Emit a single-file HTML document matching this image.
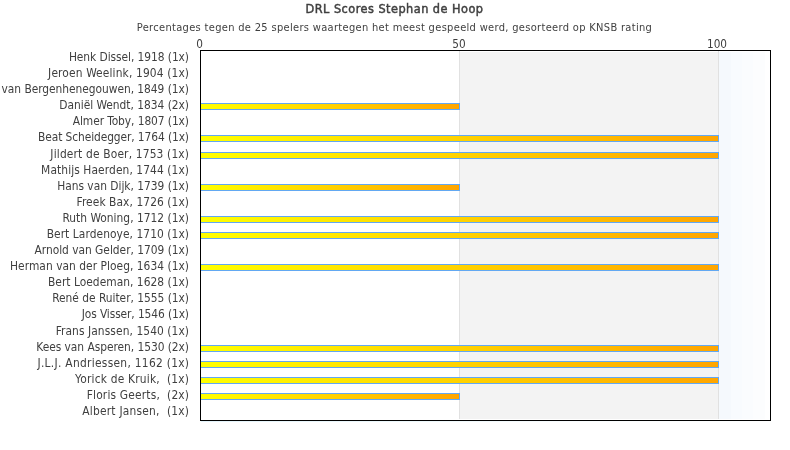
<!DOCTYPE html>
<html><head><meta charset="utf-8"><style>
html,body{margin:0;padding:0;background:#fff;}
body{width:790px;height:450px;position:relative;overflow:hidden;-webkit-font-smoothing:antialiased;font-family:"DejaVu Sans Condensed","DejaVu Sans","Liberation Sans",sans-serif;color:#3f3f3f;}
.t{position:absolute;white-space:nowrap;}
.title{left:-0.5px;width:790px;text-align:center;top:1px;font-size:12.6px;line-height:16px;letter-spacing:0.47px;-webkit-text-stroke:0.45px #3f3f3f;}
.sub{left:-0.5px;width:790px;text-align:center;top:21px;font-size:11.0px;line-height:14px;letter-spacing:0.322px;}
.lbl{right:601px;transform-origin:right center;font-size:11.85px;line-height:16px;text-align:right;}
.ax{top:36.5px;font-size:11.69px;line-height:14px;width:40px;text-align:center;}
#plot{position:absolute;left:200px;top:50px;width:569px;height:369px;border:1px solid #000;background:#fff;overflow:hidden;}
.band{position:absolute;top:1px;bottom:1px;}
.grid{position:absolute;top:0;bottom:1px;width:1px;background:#e1e1e1;}
.bar{position:absolute;left:0;height:5px;border:1px solid #62a8f2;border-left:none;background:linear-gradient(to right,#ffff00,#ffa500);}
</style></head><body>
<div id="txt" style="position:absolute;left:0;top:0;width:790px;height:450px;will-change:transform;z-index:2">
<div class="t title">DRL Scores Stephan de Hoop</div>
<div class="t sub">Percentages tegen de 25 spelers waartegen het meest gespeeld werd, gesorteerd op KNSB rating</div>
<div class="t ax" style="left:179.5px">0</div>
<div class="t ax" style="left:439px">50</div>
<div class="t ax" style="left:697px">100</div>
<div class="t lbl" style="top:49px;letter-spacing:-0.058px;right:601.058px">Henk Dissel, 1918 (1x)</div>
<div class="t lbl" style="top:65px;letter-spacing:0.142px;right:600.858px">Jeroen Weelink, 1904 (1x)</div>
<div class="t lbl" style="top:81px;letter-spacing:-0.034px;right:601.034px">van Bergenhenegouwen, 1849 (1x)</div>
<div class="t lbl" style="top:97px;letter-spacing:-0.018px;right:601.018px">Daniël Wendt, 1834 (2x)</div>
<div class="t lbl" style="top:113px;letter-spacing:-0.070px;right:601.070px">Almer Toby, 1807 (1x)</div>
<div class="t lbl" style="top:129px;letter-spacing:-0.092px;right:601.092px">Beat Scheidegger, 1764 (1x)</div>
<div class="t lbl" style="top:146px;letter-spacing:0.168px;right:600.832px">Jildert de Boer, 1753 (1x)</div>
<div class="t lbl" style="top:162px;letter-spacing:0.096px;right:600.904px">Mathijs Haerden, 1744 (1x)</div>
<div class="t lbl" style="top:178px;letter-spacing:-0.017px;right:601.017px">Hans van Dijk, 1739 (1x)</div>
<div class="t lbl" style="top:194px;letter-spacing:0.084px;right:600.916px">Freek Bax, 1726 (1x)</div>
<div class="t lbl" style="top:210px;letter-spacing:0.019px;right:600.981px">Ruth Woning, 1712 (1x)</div>
<div class="t lbl" style="top:226px;letter-spacing:0.075px;right:600.925px">Bert Lardenoye, 1710 (1x)</div>
<div class="t lbl" style="top:242px;letter-spacing:-0.015px;right:601.015px">Arnold van Gelder, 1709 (1x)</div>
<div class="t lbl" style="top:258px;letter-spacing:0.040px;right:600.960px">Herman van der Ploeg, 1634 (1x)</div>
<div class="t lbl" style="top:274px;letter-spacing:0.035px;right:600.965px">Bert Loedeman, 1628 (1x)</div>
<div class="t lbl" style="top:290px;letter-spacing:-0.017px;right:601.017px">René de Ruiter, 1555 (1x)</div>
<div class="t lbl" style="top:306px;letter-spacing:-0.100px;right:601.100px">Jos Visser, 1546 (1x)</div>
<div class="t lbl" style="top:323px;letter-spacing:0.087px;right:600.913px">Frans Janssen, 1540 (1x)</div>
<div class="t lbl" style="top:339px;letter-spacing:-0.039px;right:601.039px">Kees van Asperen, 1530 (2x)</div>
<div class="t lbl" style="top:355px;letter-spacing:0.296px;right:600.704px">J.L.J. Andriessen, 1162 (1x)</div>
<div class="t lbl" style="top:371px;letter-spacing:0.200px;right:600.800px">Yorick de Kruik,&nbsp; (1x)</div>
<div class="t lbl" style="top:387px;letter-spacing:0.179px;right:600.821px">Floris Geerts,&nbsp; (2x)</div>
<div class="t lbl" style="top:403px;letter-spacing:0.231px;right:600.769px">Albert Jansen,&nbsp; (1x)</div>
</div>
<div id="plot">
<div class="band" style="left:259px;width:259px;background:#f3f3f3"></div>
<div class="band" style="left:518px;width:51px;background:linear-gradient(to right,#f5f9fd 0,#f5f9fd 12px,#f8fbfe 12px,#f8fbfe 23px,#fafcfe 23px,#fafcfe 34px,#fcfdfe 34px,#fcfdfe 46px,#fff 46px)"></div>
<div class="grid" style="left:258px"></div>
<div class="grid" style="left:517px"></div>
<div class="bar" style="top:52px;width:258px"></div>
<div class="bar" style="top:84px;width:517px"></div>
<div class="bar" style="top:101px;width:517px"></div>
<div class="bar" style="top:133px;width:258px"></div>
<div class="bar" style="top:165px;width:517px"></div>
<div class="bar" style="top:181px;width:517px"></div>
<div class="bar" style="top:213px;width:517px"></div>
<div class="bar" style="top:294px;width:517px"></div>
<div class="bar" style="top:310px;width:517px"></div>
<div class="bar" style="top:326px;width:517px"></div>
<div class="bar" style="top:342px;width:258px"></div>
</div>
<div style="position:absolute;left:201px;top:421px;width:569px;height:1px;background:linear-gradient(to right,#e4f4fb,#eef9fc 40%,#fafdfe 70%,#fdfefe)"></div>
</body></html>
